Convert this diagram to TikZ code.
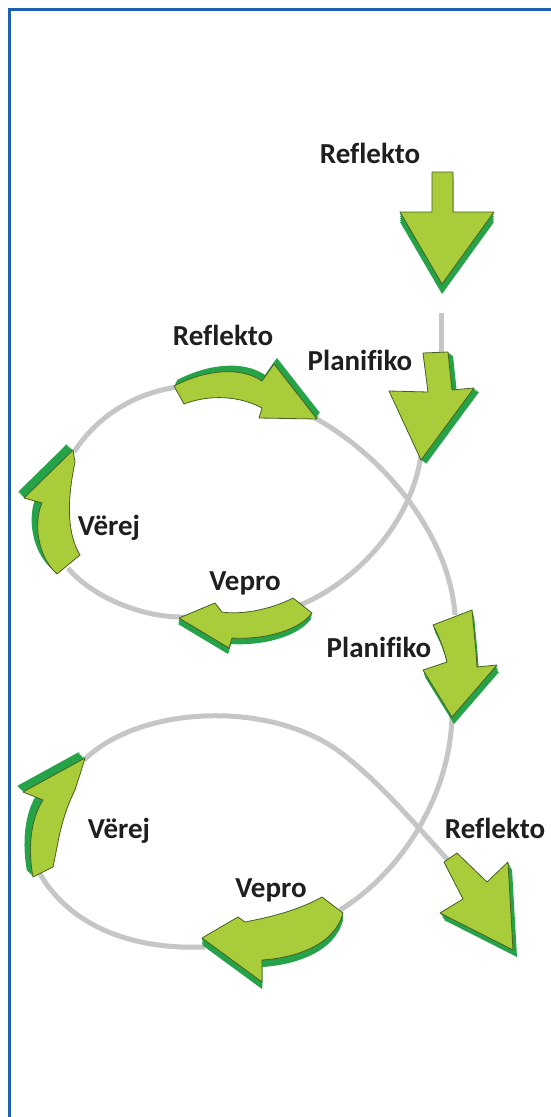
\documentclass[tikz,border=0pt]{standalone}
\usepackage{fontspec}
\setmainfont{Carlito}[Ligatures=NoCommon]
\begin{document}
\begin{tikzpicture}[x=1pt,y=-1pt,
  gline/.style={draw=graycol,line width=5pt},
  face/.style={fill=facecol,draw=edgecol,line width=0.8pt,line join=round},
  ext/.style={fill=extcol},
  lbl/.style={font=\fontsize{29}{29}\selectfont\bfseries,text=black!88,anchor=base,inner sep=0pt}]
\definecolor{graycol}{RGB}{198,198,198}
\definecolor{facecol}{RGB}{168,204,58}
\definecolor{extcol}{RGB}{38,162,72}
\definecolor{edgecol}{RGB}{70,95,35}
\definecolor{framecol}{RGB}{28,96,176}
\useasboundingbox (0,0) rectangle (551,1117);
\fill[white] (0,0) rectangle (551,1117);
% frame
\draw[framecol,line width=3pt] (9,1117) -- (9,9.5) -- (551,9.5);
% named coordinates of the connector ends
\coordinate (g0) at (441,313);
\coordinate (b_top) at (441,358);
\coordinate (b_tip) at (421,455);
\coordinate (d_tail) at (300,605);
\coordinate (d_tip) at (185,617);
\coordinate (e_tail) at (68,568);
\coordinate (e_tip) at (74,452);
\coordinate (c_tail) at (178,387);
\coordinate (c_tip) at (315,418);
\coordinate (f_top) at (455,615);
\coordinate (f_tip) at (452,712);
\coordinate (h_tail) at (340,910);
\coordinate (h_tip) at (205,947);
\coordinate (g_tail) at (40,874);
\coordinate (g_tip) at (84,760);
\coordinate (m8) at (340,752);
\coordinate (i_tail) at (448,860);
% gray loop
\draw[gline] (g0) -- (b_top);
\draw[gline] (b_tip) .. controls (412,520) and (360,580) .. (d_tail);
\draw[gline] (d_tip) .. controls (140,618) and (90,595) .. (e_tail);
\draw[gline] (e_tip) .. controls (100,412) and (140,392) .. (c_tail);
\draw[gline] (c_tip) .. controls (390,460) and (450,540) .. (f_top);
\draw[gline] (f_tip) .. controls (452,790) and (405,870) .. (h_tail);
\draw[gline] (h_tip) .. controls (130,950) and (70,925) .. (g_tail);
\draw[gline] (g_tip) .. controls (140,705) and (270,700) .. (m8) .. controls (380,782) and (420,830) .. (i_tail);
% arrow shapes
\def\shA{(432,172) -- (453,172) -- (453,212) -- (494,212) -- (442,284) -- (400,212) -- (432,212) -- cycle}
\def\shB{(423,353) -- (448,352) -- (452,390) -- (474,388) -- (421,460) -- (389,391) -- (428,392) -- cycle}
\def\shC{(174,386) .. controls (205,370) and (240,366) .. (262,381) -- (274,364) -- (317,419) -- (259,418) -- (262,408) .. controls (240,396) and (210,394) .. (184,404) -- cycle}
\def\shD{(293,598) .. controls (270,610) and (240,615) .. (222,612) -- (215,603) -- (179,618) -- (229,648) -- (232,638) .. controls (260,640) and (298,632) .. (312,613) -- cycle}
\def\shE{(73,450) -- (24,498) -- (42,503) .. controls (34,520) and (36,555) .. (57,574) -- (80,555) .. controls (68,535) and (66,505) .. (75,462) -- cycle}
\def\shF{(433,625) -- (472,610) .. controls (474,630) and (476,650) .. (477,667) -- (497,665) -- (452,717) -- (423,670) -- (447,662) .. controls (444,650) and (440,638) .. (433,625) -- cycle}
\def\shG{(85,758) -- (23,792) -- (43,800) .. controls (30,820) and (28,850) .. (33,877) -- (53,867) .. controls (58,845) and (60,820) .. (75,790) -- (82,768) -- cycle}
\def\shH{(322,897) .. controls (295,912) and (265,918) .. (245,922) -- (238,917) -- (202,938) -- (262,982) -- (262,960) .. controls (295,958) and (335,945) .. (343,913) -- cycle}
\def\shI{(444,862) -- (457,853) -- (487,882) -- (508,862) -- (513,950) -- (440,913) -- (463,899) -- cycle}
\newcommand\blockarrow[3]{%
  \foreach \t in {0.2,0.4,0.6,0.8,1}{\fill[ext,shift={(\t*#1,\t*#2)}] #3;}
  \filldraw[face] #3;}
\blockarrow{0}{10}{\shA}
\blockarrow{5}{4}{\shB}
\blockarrow{3}{-6}{\shC}
\blockarrow{-1}{6}{\shD}
\blockarrow{-6}{-6}{\shE}
\blockarrow{2}{7}{\shF}
\blockarrow{-6}{-6}{\shG}
\blockarrow{0}{7}{\shH}
\blockarrow{4}{7}{\shI}
% labels
\node[lbl] (t1) at (370,163) {Reflekto};
\node[lbl] (t2) at (223,345) {Reflekto};
\node[lbl] (t3) at (360,370) {Planifiko};
\node[lbl] (t4) at (109,535) {Vërej};
\node[lbl] (t5) at (245,590) {Vepro};
\node[lbl] (t6) at (379,657) {Planifiko};
\node[lbl] (t7) at (119,838) {Vërej};
\node[lbl] (t8) at (271,897) {Vepro};
\node[lbl] (t9) at (495,838) {Reflekto};
\end{tikzpicture}
\end{document}
